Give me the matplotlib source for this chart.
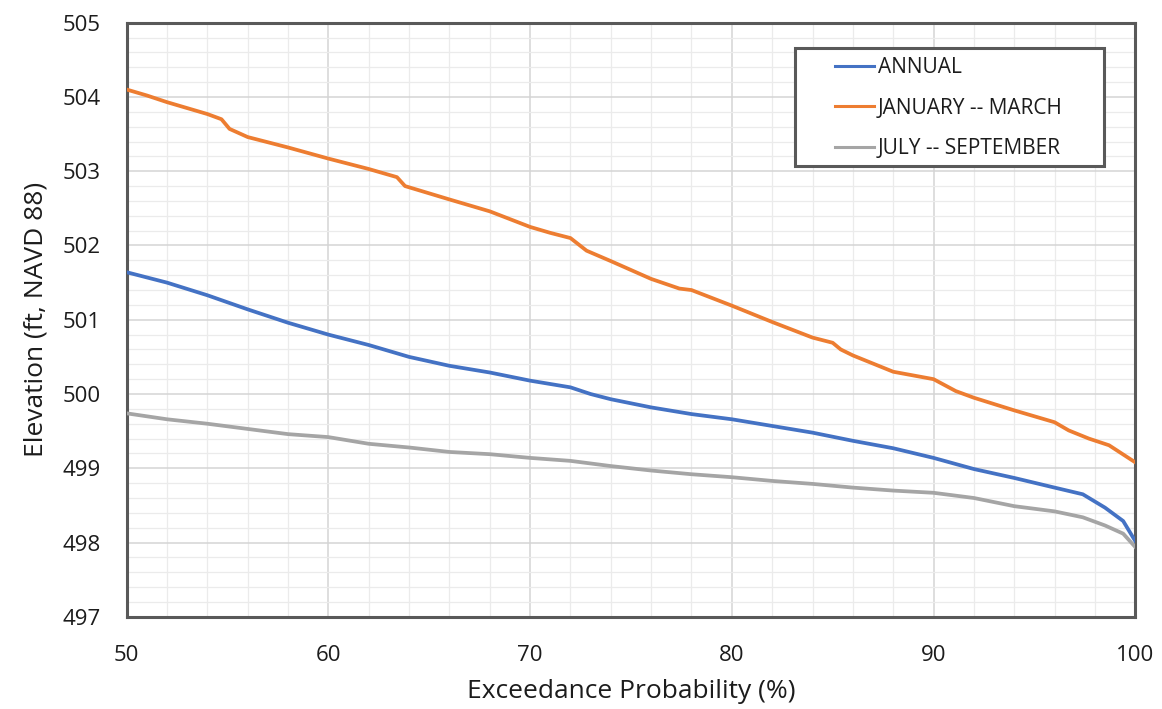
import matplotlib.pyplot as plt
from matplotlib.patches import Rectangle
from matplotlib.ticker import MultipleLocator

plt.rcParams['font.family'] = ['Open Sans', 'DejaVu Sans']

# exceedance curves
annual_x = [50, 52, 54, 56, 58, 60, 62, 64, 66, 68, 70, 72, 73, 74, 76, 78,
            80, 82, 84, 86, 88, 90, 92, 94, 96, 97.4, 98.5, 99.4, 100]
annual_y = [501.64, 501.50, 501.33, 501.14, 500.96, 500.80, 500.66, 500.50,
            500.38, 500.29, 500.18, 500.09, 500.00, 499.93, 499.82, 499.73,
            499.66, 499.57, 499.48, 499.37, 499.27, 499.14, 498.99, 498.87,
            498.74, 498.65, 498.47, 498.29, 498.02]

janmar_x = [50, 51, 52, 54, 54.7, 55.1, 56, 58, 60, 62, 63.4, 63.8, 66, 68,
            70, 71, 72, 72.8, 74, 76, 77.4, 78, 80, 82, 84, 85, 85.4, 86, 88,
            90, 91.1, 92, 94, 96, 96.7, 97.7, 98.7, 100]
janmar_y = [504.10, 504.02, 503.93, 503.77, 503.70, 503.57, 503.46, 503.32,
            503.17, 503.03, 502.92, 502.80, 502.62, 502.46, 502.25, 502.17,
            502.10, 501.93, 501.79, 501.55, 501.42, 501.40, 501.19, 500.97,
            500.76, 500.69, 500.60, 500.52, 500.30, 500.20, 500.04, 499.95,
            499.78, 499.62, 499.51, 499.40, 499.31, 499.08]

julsep_x = [50, 52, 54, 56, 58, 60, 62, 64, 66, 68, 70, 72, 74, 76, 78, 80,
            82, 84, 86, 88, 90, 92, 94, 96, 97.4, 98.5, 99.4, 100]
julsep_y = [499.74, 499.66, 499.60, 499.53, 499.46, 499.42, 499.33, 499.28,
            499.22, 499.19, 499.14, 499.10, 499.03, 498.97, 498.92, 498.88,
            498.83, 498.79, 498.74, 498.70, 498.67, 498.60, 498.49, 498.42,
            498.34, 498.23, 498.12, 497.94]

labels = ['ANNUAL', 'JANUARY -- MARCH', 'JULY -- SEPTEMBER']
colors = ['#4472C4', '#ED7D31', '#A5A5A5']
txt = '#1c1c1c'

fig = plt.figure(figsize=(11.62, 7.09), dpi=100)
ax = fig.add_axes([0.109, 0.130, 0.868, 0.838])

series = [(annual_x, annual_y), (janmar_x, janmar_y), (julsep_x, julsep_y)]
lines = []
for (xs, ys), c, lab in zip(series, colors, labels):
    ln, = ax.plot(xs, ys, color=c, lw=2.7, label=lab, zorder=3)
    lines.append(ln)

ax.set_xlim(50, 100)
ax.set_ylim(497, 505)
ax.xaxis.set_major_locator(MultipleLocator(10))
ax.xaxis.set_minor_locator(MultipleLocator(2))
ax.yaxis.set_major_locator(MultipleLocator(1))
ax.yaxis.set_minor_locator(MultipleLocator(0.2))
ax.grid(which='major', color='#d4d4d4', lw=1.1)
ax.grid(which='minor', color='#ebebeb', lw=0.9)
ax.set_axisbelow(True)

ax.tick_params(which='both', length=0)
ax.tick_params(axis='x', labelsize=16, pad=20, colors=txt)
ax.tick_params(axis='y', labelsize=16, pad=19, colors=txt)
for s in ax.spines.values():
    s.set_color('#595959')
    s.set_linewidth(2.2)

ax.set_xlabel('Exceedance Probability (%)', fontsize=19, labelpad=10, color=txt)
ax.set_ylabel('Elevation (ft, NAVD 88)', fontsize=19, labelpad=10, color=txt)

# legend box drawn by hand so the padding matches
ax.add_patch(Rectangle((0.663, 0.758), 0.3056, 0.199, transform=ax.transAxes,
                       facecolor='white', edgecolor='#595959', lw=2.2, zorder=5))
leg = ax.legend(handles=lines, loc='upper left', bbox_to_anchor=(0.7025, 0.942),
                frameon=False, fontsize=15, labelspacing=0.93, handlelength=1.85,
                handletextpad=0.2, borderpad=0, borderaxespad=0)
leg.set_zorder(6)
for ln in leg.get_lines():
    ln.set_linewidth(2.2)
for t in leg.get_texts():
    t.set_color(txt)

fig.savefig('out.png', dpi=100)
